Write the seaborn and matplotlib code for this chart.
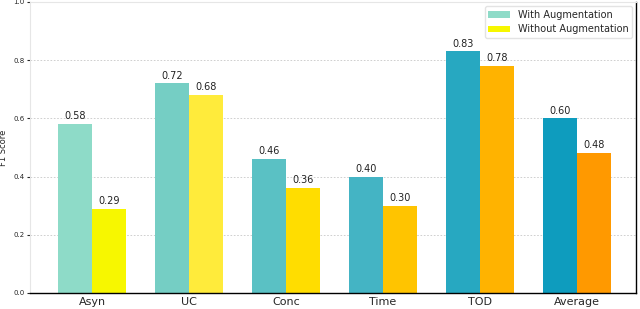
import pandas as pd
import matplotlib.pyplot as plt
import seaborn as sns

categories = ["Asyn", "UC", "Conc", "Time", "TOD", "Average"]
with_aug = [0.58, 0.72, 0.46, 0.40, 0.83, 0.60]
without_aug = [0.29, 0.68, 0.36, 0.30, 0.78, 0.48]
with_colors = ["#8EDBC8", "#75CEC4", "#5AC1C4", "#44B4C4", "#27A8C1", "#0E9CBE"]
without_colors = ["#F7F700", "#FFEB3B", "#FFDD00", "#FFC400", "#FFB300", "#FF9900"]
series = ["With Augmentation", "Without Augmentation"]

df = pd.DataFrame({
    "category": categories * 2,
    "score": with_aug + without_aug,
    "method": [series[0]] * 6 + [series[1]] * 6,
})

sns.set_style("white")
plt.rcParams["font.family"] = ["DejaVu Sans"]

fig, ax = plt.subplots(figsize=(6.4, 3.09), dpi=100)
sns.barplot(data=df, x="category", y="score", hue="method", width=0.7,
            palette=[with_colors[0], without_colors[0]], saturation=1,
            ax=ax, linewidth=0)

for cont, cols in zip(ax.containers, [with_colors, without_colors]):
    for bar, c in zip(cont, cols):
        bar.set_facecolor(c)
    ax.bar_label(cont, fmt="%.2f", fontsize=7, padding=2, color="#222222")

ax.set_xlim(-0.64, 5.61)
ax.set_ylim(0, 1.0)
ax.set_yticks([0, 0.2, 0.4, 0.6, 0.8, 1.0])
ax.tick_params(axis="y", labelsize=5, length=2, pad=2, left=True)
ax.tick_params(axis="x", labelsize=8, length=0, pad=3)
ax.set_xlabel("")
ax.set_ylabel("F1 Score", fontsize=6, labelpad=4)
ax.yaxis.grid(True, linestyle=(0, (2, 2)), color="#c8c8c8", linewidth=0.6)
ax.set_axisbelow(True)

for side in ["left", "top"]:
    ax.spines[side].set_color("#e6e6e6")
for side in ["right", "bottom"]:
    ax.spines[side].set_color("black")
    ax.spines[side].set_linewidth(1.0)

ax.legend(title=None, loc="upper right", fontsize=7, frameon=True,
          borderaxespad=0.4, handlelength=2.2, edgecolor="#dddddd")

plt.subplots_adjust(left=0.047, right=0.994, bottom=0.052, top=0.994)
plt.savefig("out.png")
